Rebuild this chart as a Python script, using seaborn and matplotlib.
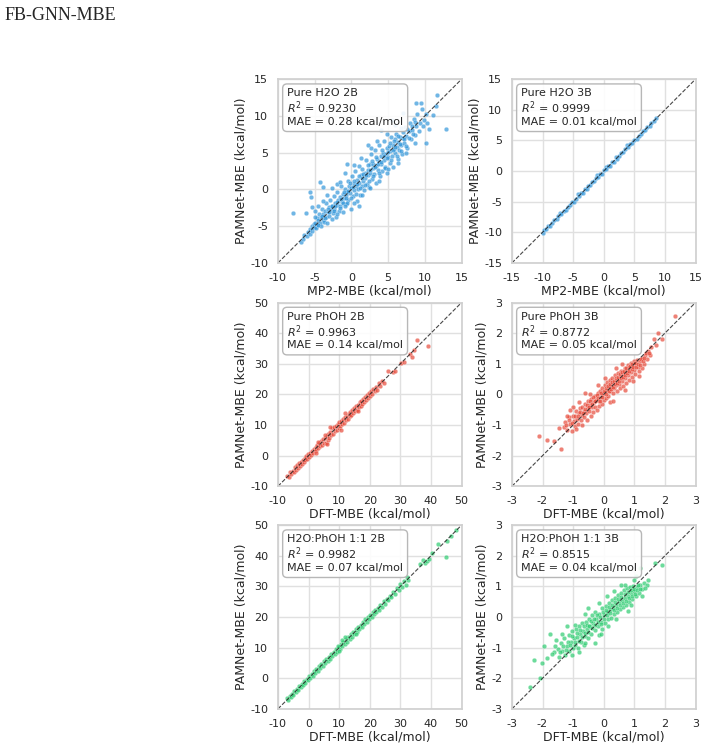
import matplotlib
matplotlib.use("Agg")
import matplotlib.pyplot as plt
import pandas as pd
import seaborn as sns

# ---- data (approximate) ----
h2o_2b = [
    (-6.9, -7.1), (-6.6, -6.7), (-6.4, -6.2), (-6.1, -6.3), (-5.9, -5.8), (-5.7, -6.0), (-5.6, -5.4),
    (-5.4, -5.6), (-5.3, -5.0), (-5.2, -5.3), (-5.1, -4.7), (-5.0, -5.1), (-7.96, -3.27), (-6.2, -3.2),
    (-5.6, -0.3), (-5.5, -1.0), (-5.3, -2.4), (-4.3, 1.0), (-3.8, 0.3),
    (-4.9, -4.5), (-4.8, -5.2), (-4.7, -3.9), (-4.6, -4.8), (-4.5, -4.2), (-4.4, -3.3), (-4.3, -4.6),
    (-4.2, -3.7), (-4.1, -5.0), (-4.0, -2.6), (-3.9, -4.1), (-3.8, -3.4), (-3.7, -4.4), (-3.6, -2.9),
    (-3.5, -3.8), (-3.4, -1.9), (-3.3, -4.6), (-3.2, -3.1), (-3.1, -2.4), (-3.0, -3.6),
    (-2.9, -1.5), (-2.8, -2.8), (-2.7, -4.0), (-2.6, -2.2), (-2.5, -3.2), (-2.4, -0.9), (-2.3, -2.6),
    (-2.2, -1.8), (-2.1, -3.7), (-2.0, -2.1), (-1.9, -0.4), (-1.8, -1.5), (-1.7, -2.9), (-1.6, -1.0),
    (-1.5, -2.3), (-1.4, 0.4), (-1.3, -1.7), (-1.2, -0.6), (-1.1, -3.1), (-1.0, -1.2),
    (-0.9, 0.1), (-0.8, -0.8), (-0.7, -2.0), (-0.6, -0.3), (-0.5, 1.2), (-0.4, -1.4), (-0.3, 0.5),
    (-0.2, -0.5), (-0.1, -2.6), (0.0, 0.2), (0.1, 1.8), (0.2, -0.9), (0.3, 0.8), (0.4, -0.1),
    (0.5, 2.5), (0.6, 0.4), (0.7, -1.6), (0.8, 1.3), (0.9, 0.0), (1.0, 3.2),
    (1.1, 0.9), (1.2, -0.7), (1.3, 1.9), (1.4, 0.5), (1.5, 2.8), (1.6, 1.2), (1.7, -0.1), (1.8, 2.3),
    (1.9, 1.6), (2.0, 4.0), (2.1, 0.8), (2.2, 2.6), (2.3, 1.9), (2.4, 0.3), (2.5, 3.4), (2.6, 2.2),
    (2.7, 4.8), (2.8, 1.4), (2.9, 2.9), (3.0, 3.5),
    (3.1, 2.1), (3.2, 5.3), (3.3, 3.2), (3.4, 0.9), (3.5, 4.1), (3.6, 2.7), (3.7, 3.8), (3.8, 6.0),
    (3.9, 1.8), (4.0, 4.5), (4.1, 3.4), (4.2, 2.5), (4.3, 5.0), (4.4, 4.0), (4.5, 6.6), (4.6, 3.1),
    (4.7, 4.8), (4.8, 5.7), (4.9, 2.2), (5.0, 4.4),
    (5.1, 5.9), (5.2, 3.6), (5.3, 5.2), (5.4, 7.2), (5.5, 4.6), (5.6, 6.1), (5.7, 3.0), (5.8, 5.5),
    (5.9, 6.8), (6.0, 4.9), (6.1, 7.6), (6.2, 5.8), (6.3, 4.1), (6.4, 6.5), (6.5, 5.4), (6.6, 7.1),
    (6.7, 8.3), (6.8, 6.0), (6.9, 4.8), (7.0, 7.0),
    (7.2, 6.3), (7.3, 8.5), (7.5, 7.3), (7.6, 5.6), (7.8, 7.9), (8.0, 9.0), (8.1, 6.9), (8.3, 8.1),
    (8.5, 9.6), (8.6, 7.4), (8.8, 8.6), (9.0, 10.2), (9.2, 8.0), (9.4, 9.1), (9.7, 8.6), (9.9, 9.5),
    (10.2, 6.3), (10.6, 8.2), (10.3, 9.0), (12.9, 8.2), (11.7, 12.9), (8.8, 11.8), (9.5, 11.8),
    (11.1, 10.1), (11.5, 11.3), (7.0, 10.4), (5.5, 9.4), (1.0, -2.3), (-2.0, 0.8), (-0.6, 3.4),
    (2.2, 6.0), (4.0, 8.1),
    (-4.5, -4.9), (-4.0, -3.6), (-3.6, -3.9), (-3.2, -2.7), (-3.0, -3.1), (-2.7, -2.3), (-2.4, -2.9),
    (-2.2, -2.2), (-1.9, -1.7), (-1.6, -2.5), (-1.4, -1.3), (-1.2, -1.9), (-1.0, -0.4), (-0.8, -1.1),
    (-0.6, -1.8), (-0.4, -0.2), (-0.2, 0.9), (0.0, -1.2), (0.2, 0.3), (0.4, 1.1), (0.6, -0.6),
    (0.8, 0.7), (1.0, 1.8), (1.2, 0.2), (1.4, 1.5), (1.6, 2.1), (1.8, 0.6), (2.0, 1.9), (2.2, 3.3),
    (2.4, 1.2), (2.6, 2.7), (2.8, 3.9), (3.0, 1.8), (3.2, 3.0), (3.4, 4.4), (3.6, 3.5), (3.8, 2.3),
    (4.0, 3.7), (4.2, 5.4), (4.4, 4.6), (4.6, 2.9), (4.8, 4.3), (5.0, 5.1), (5.2, 6.3), (5.4, 4.0),
    (5.6, 5.3), (5.8, 6.6), (6.0, 5.8), (6.2, 4.5), (6.4, 7.3), (6.6, 6.2), (6.8, 5.2), (7.0, 7.8),
    (7.2, 6.8), (7.4, 5.9), (7.6, 8.2), (7.9, 7.0), (8.2, 8.6), (8.4, 7.6), (8.7, 9.2), (-3.3, -0.8),
    (-2.6, 0.2), (-1.5, 1.0), (-0.9, 2.2), (0.3, 3.3), (1.3, 4.3), (2.7, 5.6), (3.5, 6.6), (4.9, 7.6),
    (6.0, 8.8), (-2.0, -3.3), (-0.9, -2.2), (0.4, -1.8), (1.5, -0.8), (2.6, 0.2), (3.8, 1.2),
    (5.0, 2.8), (6.3, 3.6), (7.5, 4.9), (8.6, 6.3), (-4.6, -2.3), (-3.9, -1.6), (-5.0, -3.8),
    (-4.9, -2.9), (9.6, 11.0), (10.1, 10.3),
]

h2o_3b = [
    (-10.0, -10.1), (-9.7, -9.6), (-9.4, -9.5), (-9.1, -9.0), (-8.8, -8.9), (-8.4, -8.4), (-8.1, -8.0),
    (-7.7, -7.8), (-7.4, -7.3), (-7.2, -6.9), (-6.9, -7.0), (-6.5, -6.5), (-6.2, -6.3), (-5.9, -5.8),
    (-5.5, -5.6), (-5.2, -5.1), (-4.9, -5.0), (-4.6, -4.6), (-4.2, -3.8), (-4.0, -4.1), (-3.7, -3.6),
    (-3.4, -3.5), (-3.1, -3.0), (-2.8, -2.9), (-2.5, -2.4), (-2.2, -2.3), (-1.9, -1.8), (-1.6, -1.7),
    (-1.3, -1.2), (-1.1, -0.6), (-0.9, -1.0), (-0.6, -0.5), (-0.3, -0.4), (0.0, 0.1), (0.3, 0.6),
    (0.4, 0.3), (0.7, 0.8), (1.0, 0.9), (1.3, 1.4), (1.6, 1.5), (2.0, 2.3), (2.1, 2.0), (2.5, 2.5),
    (2.8, 2.9), (3.2, 3.1), (3.5, 3.6), (3.8, 4.3), (4.0, 3.9), (4.3, 4.4), (4.7, 4.6), (5.0, 5.1),
    (5.4, 5.3), (5.7, 5.8), (6.1, 6.0), (6.4, 6.5), (6.8, 6.7), (7.1, 7.2), (7.5, 7.4), (7.8, 7.9),
    (8.2, 8.1), (8.5, 8.6),
]

phoh_2b = [
    (-7.0, -6.6), (-6.5, -6.9), (-6.0, -5.4), (-5.6, -6.1), (-5.2, -4.9), (-4.8, -5.3), (-4.5, -3.8),
    (-4.1, -4.6), (-3.8, -3.2), (-3.5, -4.0), (-3.1, -2.5), (-2.8, -3.3), (-2.5, -2.0), (-2.2, -2.8),
    (-1.9, -1.4), (-1.6, -2.1), (-1.3, -0.7), (-1.0, -1.5), (-0.7, -0.2), (-0.4, -1.0), (-0.1, 0.4),
    (0.2, -0.3), (0.5, 1.0), (0.8, 0.2), (1.1, 1.5), (1.4, 0.8), (1.7, 2.3), (2.0, 1.4), (2.3, 2.8),
    (2.6, 2.0), (2.9, 3.6), (3.2, 2.5), (3.5, 4.2), (3.8, 3.1), (4.1, 4.9), (4.4, 3.6), (4.7, 5.4),
    (5.0, 4.2), (5.3, 5.9), (5.6, 4.3), (5.9, 6.5), (6.2, 5.0), (6.5, 7.1), (6.8, 5.9), (7.1, 7.6),
    (7.4, 6.6), (7.7, 8.9), (8.0, 7.2), (8.3, 9.5), (8.6, 7.9), (8.9, 9.6), (9.2, 8.4), (9.5, 10.3),
    (9.8, 9.0), (10.1, 10.9), (10.4, 9.6), (10.7, 11.3), (11.0, 10.3), (11.3, 11.9), (11.6, 10.8),
    (11.9, 12.5), (12.2, 11.5), (12.5, 13.1), (12.8, 12.0), (13.1, 13.6), (13.4, 12.8), (13.7, 14.3),
    (14.0, 13.2), (14.3, 15.0), (14.6, 13.9), (14.9, 15.6), (15.2, 14.6), (15.5, 16.2), (15.8, 15.0),
    (16.1, 16.7), (16.4, 15.8), (16.7, 17.4), (17.0, 16.2), (17.3, 17.9), (17.6, 16.9), (17.9, 18.6),
    (18.2, 17.5), (18.5, 19.1), (18.8, 18.3), (19.1, 19.8), (19.4, 18.7), (19.7, 20.3), (20.0, 19.4),
    (20.4, 21.1), (20.8, 20.2), (21.2, 21.7), (21.6, 21.0), (22.0, 22.4), (22.5, 21.6), (23.0, 23.6),
    (23.5, 22.8), (24.0, 24.5), (24.5, 23.6), (26.0, 27.6), (27.6, 27.2), (28.3, 27.8), (30.3, 30.4),
    (31.2, 30.7), (33.0, 33.3), (33.8, 32.1), (34.3, 34.6), (35.5, 37.8), (39.0, 35.8), (6.0, 3.8),
    (7.0, 9.3), (5.5, 6.6), (3.0, 4.6), (10.5, 8.4), (12.0, 13.8), (16.0, 14.6), (2.5, 0.9),
]

phoh_3b = [
    (-1.30, -1.05), (-1.25, -0.90), (-1.20, -1.15), (-1.15, -0.75), (-1.10, -0.95), (-1.05, -1.20),
    (-1.00, -0.70), (-0.98, -0.88), (-0.95, -1.02), (-0.90, -0.55), (-0.88, -0.80), (-0.85, -0.95),
    (-0.80, -0.60), (-0.78, -0.45), (-0.75, -0.85), (-0.72, -0.68), (-0.70, -0.40), (-0.66, -0.75),
    (-0.63, -0.55), (-0.60, -0.30), (-0.58, -0.62), (-0.55, -0.82), (-0.52, -0.45), (-0.50, -0.20),
    (-0.47, -0.55), (-0.44, -0.35), (-0.42, -0.70), (-0.40, -0.15), (-0.37, -0.42), (-0.35, -0.58),
    (-0.32, -0.25), (-0.30, -0.05), (-0.27, -0.40), (-0.25, -0.18), (-0.22, -0.50), (-0.20, 0.05),
    (-0.17, -0.22), (-0.15, -0.38), (-0.12, 0.10), (-0.10, -0.08), (-0.07, -0.30), (-0.05, 0.22),
    (-0.02, 0.00), (0.00, -0.18), (0.03, 0.30), (0.05, 0.08), (0.08, -0.12), (0.10, 0.40),
    (0.12, 0.15), (0.15, -0.05), (0.18, 0.32), (0.20, 0.48), (0.22, 0.10), (0.25, 0.25), (0.28, 0.55),
    (0.30, 0.05), (0.32, 0.38), (0.35, 0.20), (0.38, 0.62), (0.40, 0.30), (0.42, 0.12), (0.45, 0.48),
    (0.48, 0.70), (0.50, 0.35), (0.52, 0.20), (0.55, 0.58), (0.58, 0.78), (0.60, 0.45), (0.62, 0.28),
    (0.65, 0.68), (0.68, 0.85), (0.70, 0.52), (0.72, 0.38), (0.75, 0.75), (0.78, 0.95), (0.80, 0.62),
    (0.82, 0.48), (0.85, 0.85), (0.88, 1.02), (0.90, 0.72), (0.92, 0.58), (0.95, 0.92), (0.98, 1.08),
    (1.00, 0.80), (1.03, 0.66), (1.06, 1.00), (1.10, 1.12), (1.13, 0.88), (1.16, 0.76), (1.20, 1.08),
    (1.25, 1.20), (1.30, 1.00), (1.35, 1.30), (1.40, 1.15), (1.45, 1.42), (1.50, 1.28), (1.55, 1.55),
    (-1.45, -1.10), (-2.10, -1.36), (-1.84, -1.49), (-1.63, -1.52), (-1.41, -1.78), (2.33, 2.56),
    (1.76, 2.00), (1.92, 1.80), (1.65, 1.82), (1.70, 1.62), (-0.60, 0.05), (0.40, 0.85), (0.95, 0.45),
    (-1.00, -0.40), (0.20, -0.25), (1.25, 0.85),
    (-1.22, -1.00), (-1.12, -0.82), (-1.02, -0.92), (-0.93, -0.70), (-0.83, -0.72), (-0.76, -0.58),
    (-0.68, -0.60), (-0.61, -0.48), (-0.56, -0.36), (-0.49, -0.40), (-0.45, -0.22), (-0.38, -0.30),
    (-0.34, -0.10), (-0.28, -0.20), (-0.23, -0.02), (-0.18, -0.12), (-0.13, -0.20), (-0.09, 0.06),
    (-0.04, -0.10), (0.01, 0.12), (0.06, 0.20), (0.09, 0.02), (0.13, 0.28), (0.17, 0.12), (0.21, 0.35),
    (0.24, 0.18), (0.27, 0.40), (0.31, 0.25), (0.34, 0.45), (0.37, 0.34), (0.41, 0.55), (0.44, 0.38),
    (0.47, 0.58), (0.51, 0.45), (0.54, 0.66), (0.57, 0.52), (0.61, 0.72), (0.64, 0.56), (0.67, 0.78),
    (0.71, 0.64), (0.74, 0.85), (0.77, 0.70), (0.81, 0.90), (0.84, 0.76), (0.87, 0.94), (0.91, 0.84),
    (0.94, 1.00), (0.97, 0.88), (1.02, 1.02), (1.07, 0.90), (1.12, 1.00), (1.18, 0.95), (1.22, 1.15),
    (1.28, 1.10), (1.33, 1.18), (1.38, 1.35), (1.48, 1.36), (-0.20, 0.30), (0.05, 0.55), (0.60, 1.00),
    (-0.45, 0.00), (-0.80, -0.25), (0.30, -0.20), (0.70, 0.15), (1.15, 0.60), (-0.70, -1.00),
    (-1.10, -0.50), (-1.20, -0.70), (-0.90, -1.12),
]

mix_2b = [
    (-7.0, -6.6), (-6.6, -7.0), (-6.2, -5.8), (-5.8, -6.1), (-5.4, -5.0), (-5.0, -5.5), (-4.6, -4.2),
    (-4.2, -4.6), (-3.8, -3.4), (-3.4, -3.8), (-3.0, -2.5), (-2.6, -3.0), (-2.2, -1.8), (-1.8, -2.2),
    (-1.4, -0.9), (-1.0, -1.4), (-0.6, -0.3), (-0.2, -0.6), (0.2, 0.7), (0.6, 0.1), (1.0, 1.5),
    (1.4, 0.9), (1.8, 2.3), (2.2, 1.7), (2.6, 3.1), (3.0, 2.4), (3.4, 3.9), (3.8, 3.2), (4.2, 4.7),
    (4.6, 4.0), (5.0, 5.6), (5.4, 4.9), (5.8, 6.3), (6.2, 5.6), (6.6, 7.1), (7.0, 6.4), (7.4, 7.9),
    (7.8, 7.2), (8.2, 8.7), (8.6, 8.0), (9.0, 9.6), (9.4, 8.7), (9.8, 10.3), (10.2, 9.6), (10.6, 11.2),
    (11.0, 10.4), (11.4, 12.0), (11.8, 11.1), (12.2, 12.8), (12.6, 11.9), (13.0, 13.5), (13.4, 12.8),
    (13.8, 14.3), (14.2, 13.6), (14.6, 15.2), (15.0, 14.4), (15.4, 16.0), (15.8, 15.2), (16.2, 16.8),
    (16.6, 16.0), (17.0, 17.5), (17.4, 16.8), (17.8, 18.4), (18.2, 17.6), (18.6, 19.2), (19.0, 18.5),
    (19.4, 20.0), (19.8, 19.2), (20.2, 20.8), (20.6, 20.0), (21.0, 21.6), (21.4, 20.9), (21.8, 22.3),
    (22.2, 21.7), (22.6, 23.1), (23.0, 22.4), (23.5, 24.0), (24.0, 23.4), (24.5, 25.1), (25.0, 24.4),
    (25.5, 26.0), (26.0, 25.5), (26.5, 27.0), (27.0, 26.6), (27.6, 28.1), (28.2, 27.6), (28.8, 29.5),
    (29.4, 28.8), (30.0, 30.8), (30.6, 29.9), (31.2, 31.9), (31.8, 30.6), (32.3, 33.2), (32.6, 32.0),
    (11.0, 12.6), (10.0, 8.9), (9.5, 10.7), (15.5, 14.6), (12.0, 13.4), (37.5, 38.5), (38.0, 37.6),
    (38.6, 38.4), (39.2, 39.0), (36.5, 37.2), (42.2, 44.0), (44.9, 39.6), (45.4, 44.7), (46.7, 46.3),
    (48.2, 48.5), (40.5, 41.0),
]

mix_3b = [
    (-1.50, -1.05), (-1.45, -1.30), (-1.40, -0.85), (-1.35, -1.10), (-1.30, -0.70), (-1.25, -1.25),
    (-1.20, -0.95), (-1.15, -0.60), (-1.12, -1.10), (-1.08, -0.80), (-1.05, -0.45), (-1.00, -1.00),
    (-0.97, -0.70), (-0.94, -0.90), (-0.90, -0.40), (-0.87, -0.65), (-0.84, -1.00), (-0.80, -0.30),
    (-0.77, -0.55), (-0.74, -0.80), (-0.70, -0.20), (-0.67, -0.45), (-0.64, -0.90), (-0.60, -0.62),
    (-0.57, -0.15), (-0.54, -0.38), (-0.50, -0.70), (-0.47, -0.05), (-0.44, -0.28), (-0.40, -0.55),
    (-0.37, 0.05), (-0.34, -0.18), (-0.30, -0.42), (-0.27, 0.15), (-0.24, -0.05), (-0.20, -0.30),
    (-0.17, -0.60), (-0.14, 0.10), (-0.10, -0.15), (-0.07, 0.30), (-0.04, -0.38), (0.00, 0.05),
    (0.03, -0.20), (0.06, 0.35), (0.10, 0.15), (0.13, -0.08), (0.16, 0.45), (0.20, 0.22), (0.23, -0.02),
    (0.26, 0.55), (0.30, 0.30), (0.33, 0.10), (0.36, 0.62), (0.40, 0.40), (0.43, 0.18), (0.46, 0.72),
    (0.50, 0.48), (0.53, 0.25), (0.56, 0.80), (0.60, 0.55), (0.63, 0.32), (0.66, 0.88), (0.70, 0.62),
    (0.73, 0.40), (0.76, 0.95), (0.80, 0.70), (0.83, 0.50), (0.86, 0.98), (0.90, 0.78), (0.93, 0.58),
    (0.96, 1.02), (1.00, 0.85), (1.05, 0.68), (1.10, 0.98), (1.15, 0.80), (1.20, 1.05), (1.25, 0.92),
    (1.30, 1.10), (1.40, 1.05), (-2.42, -2.30), (-2.28, -1.41), (-2.07, -1.98), (-2.02, -1.49),
    (-1.77, -0.55), (-1.61, -1.14), (1.90, 1.71), (1.66, 1.77), (1.20, 1.60), (1.45, 1.20),
    (-1.20, -0.30), (-0.50, 0.30), (0.10, 0.70), (-1.70, -1.20), (-1.55, -0.75), (0.80, 0.20),
    (-0.30, -0.85), (1.05, 1.35),
    (-1.42, -1.15), (-1.32, -0.95), (-1.22, -1.08), (-1.18, -0.80), (-1.10, -0.92), (-1.02, -0.62),
    (-0.95, -0.82), (-0.88, -0.52), (-0.82, -0.78), (-0.76, -0.42), (-0.71, -0.65), (-0.65, -0.30),
    (-0.62, -0.52), (-0.56, -0.25), (-0.52, -0.50), (-0.48, -0.30), (-0.42, -0.12), (-0.38, -0.35),
    (-0.32, -0.05), (-0.28, -0.25), (-0.22, 0.05), (-0.18, -0.15), (-0.12, 0.00), (-0.08, -0.22),
    (-0.02, 0.15), (0.02, -0.05), (0.08, 0.22), (0.12, 0.05), (0.18, 0.32), (0.22, 0.12), (0.28, 0.40),
    (0.32, 0.22), (0.38, 0.48), (0.42, 0.30), (0.48, 0.58), (0.52, 0.38), (0.58, 0.65), (0.62, 0.45),
    (0.68, 0.75), (0.72, 0.52), (0.78, 0.82), (0.82, 0.62), (0.88, 0.88), (0.92, 0.70), (0.98, 0.92),
    (1.02, 0.75), (1.08, 0.88), (1.12, 1.05), (1.18, 0.92), (1.35, 0.95), (-1.60, -0.95), (-1.35, -0.55),
    (-0.95, -0.25), (-0.60, 0.10), (-0.15, 0.45), (0.35, 0.85), (0.70, 1.05), (-1.05, -1.25),
    (-0.60, -0.85), (-0.10, -0.55), (0.40, -0.05), (0.90, 0.40), (1.25, 0.70), (-1.85, -1.35),
    (-1.95, -0.95), (0.55, 1.05), (0.98, 1.20), (-0.80, -1.15), (0.15, -0.30),
]

panel_names = ["Pure H2O 2B", "Pure H2O 3B", "Pure PhOH 2B", "Pure PhOH 3B",
               "H2O:PhOH 1:1 2B", "H2O:PhOH 1:1 3B"]
panel_data = [h2o_2b, h2o_3b, phoh_2b, phoh_3b, mix_2b, mix_3b]
r2_vals = [0.9230, 0.9999, 0.9963, 0.8772, 0.9982, 0.8515]
mae_vals = [0.28, 0.01, 0.14, 0.05, 0.07, 0.04]
x_labels = ["MP2-MBE (kcal/mol)", "MP2-MBE (kcal/mol)", "DFT-MBE (kcal/mol)",
            "DFT-MBE (kcal/mol)", "DFT-MBE (kcal/mol)", "DFT-MBE (kcal/mol)"]
limits = [(-10, 15), (-15, 15), (-10, 50), (-3, 3), (-10, 50), (-3, 3)]
tick_steps = [5, 5, 10, 1, 10, 1]
colors = ["#3498db", "#3498db", "#e74c3c", "#e74c3c", "#2ecc71", "#2ecc71"]

sns.set_theme(style="whitegrid")
plt.rcParams.update({
    "font.family": ["DejaVu Sans"],
    "axes.unicode_minus": False,
    "xtick.labelsize": 8, "ytick.labelsize": 8, "axes.labelsize": 9,
    "grid.color": "#e0e0e0", "axes.edgecolor": "#d0d0d0",
})

fig = plt.figure(figsize=(7.09, 7.47), dpi=100)
lefts = [0.392, 0.722]
bottoms = [0.648, 0.349, 0.051]
w, h = 0.259, 0.246

for i in range(6):
    ax = fig.add_axes([lefts[i % 2], bottoms[i // 2], w, h])
    df = pd.DataFrame(panel_data[i], columns=["x", "y"])
    sns.scatterplot(data=df, x="x", y="y", color=colors[i], s=11, alpha=0.7,
                    edgecolor="white", linewidth=0.25, ax=ax)
    lo, hi = limits[i]
    ax.plot([lo, hi], [lo, hi], "k--", lw=0.8, alpha=0.8)
    ax.set_xlim(lo, hi)
    ax.set_ylim(lo, hi)
    ticks = list(range(lo, hi + 1, tick_steps[i]))
    ax.set_xticks(ticks)
    ax.set_yticks(ticks)
    ax.tick_params(pad=1)
    ax.set_xlabel(x_labels[i], labelpad=1)
    ax.set_ylabel("PAMNet-MBE (kcal/mol)", labelpad=2)
    txt = f"{panel_names[i]}\n$R^2$ = {r2_vals[i]:.4f}\nMAE = {mae_vals[i]:.2f} kcal/mol"
    ax.text(0.05, 0.95, txt, transform=ax.transAxes, va="top", ha="left", fontsize=8,
            linespacing=1.1,
            bbox=dict(boxstyle="round,pad=0.4", facecolor="white", edgecolor="#b0b0b0", alpha=0.9))

fig.text(0.006, 0.99, "FB-GNN-MBE", family=["Liberation Serif"], fontsize=13,
         va="top", ha="left")

fig.savefig("out.png", dpi=100)
